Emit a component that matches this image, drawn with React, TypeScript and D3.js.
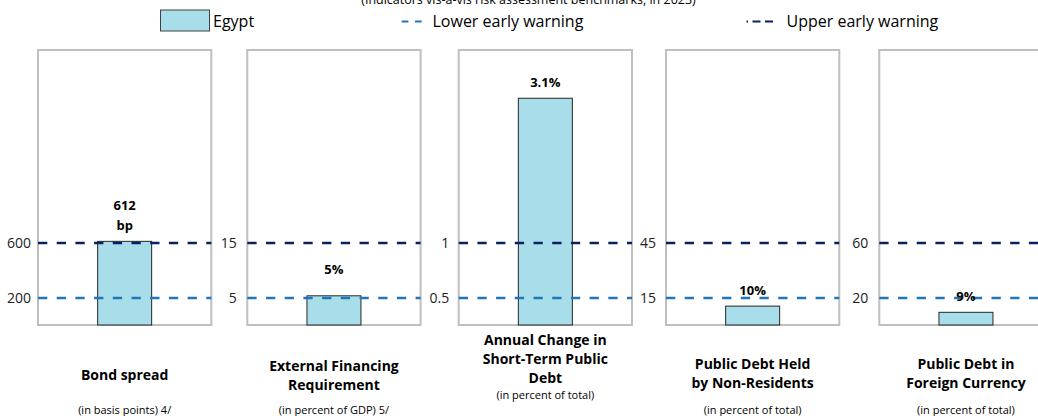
import React from "react";
import * as d3 from "d3";

// ---------- data ----------
const titleLines: string[][] = [
  ["Bond spread"],
  ["External Financing", "Requirement"],
  ["Annual Change in", "Short-Term Public", "Debt"],
  ["Public Debt Held", "by Non-Residents"],
  ["Public Debt in", "Foreign Currency"],
];
const unitLabels = [
  "(in basis points) 4/",
  "(in percent of GDP) 5/",
  "(in percent of total)",
  "(in percent of total)",
  "(in percent of total)",
];
const egyptValues = [612, 5.4, 3.1, 10.5, 9.4];
const valueLabels: string[][] = [["612", "bp"], ["5%"], ["3.1%"], ["10%"], ["9%"]];
const lowerWarning = [200, 5, 0.5, 15, 20];
const upperWarning = [600, 15, 1, 45, 60];
const axisMax = [2000, 50, 3.8, 150, 200];
const chartTitle = "(Indicators vis-à-vis risk assessment benchmarks, in 2023)";
const legendLabels = ["Egypt", "Lower early warning", "Upper early warning"];

// ---------- layout ----------
const W = 1038;
const H = 416;
const panelLeft = [38, 247.3, 458.7, 666, 879.3];
const panelW = 173.3;
const plotTop = 50;
const plotBottom = 325;
const yLowerPx = 298;
const yUpperPx = 243;
const barW = 54;
const tickGap = [7, 10.5, 9.5, 10, 11];
const labelLift = [0, 10, 0, 0, 0];
const titleBaseline = [380, 370.5, 345, 369, 369];
const unitBaseline = [413.5, 413.5, 398.5, 413.5, 413.5];

const BAR_FILL = "#A8DEE9";
const UPPER = "#0A2160";
const LOWER = "#2176B8";
const FONT = "'Open Sans', 'Noto Sans', sans-serif";

export default function App() {
  return (
    <svg
      width={W}
      height={H}
      style={{ position: "absolute", left: 0, top: 0, background: "#fff" }}
      fontFamily={FONT}
    >
      <rect x={0} y={0} width={W} height={H} fill="#fff" />
      {/* title (cut off at top) */}
      <text x={528.5} y={3.5} textAnchor="middle" fontSize={12.5} fill="#000">
        {chartTitle}
      </text>

      {/* legend */}
      <rect x={160.5} y={10} width={49} height={21} fill={BAR_FILL} stroke="#404040" strokeWidth={1} />
      <text x={213} y={26.5} fontSize={16} fill="#000">{legendLabels[0]}</text>
      <line x1={401.7} x2={421.7} y1={21.5} y2={21.5} stroke={LOWER} strokeWidth={2} strokeDasharray="6.7 6.6" />
      <text x={432.5} y={26.5} fontSize={16} fill="#000">{legendLabels[1]}</text>
      <line x1={746.5} x2={774} y1={21.5} y2={21.5} stroke={UPPER} strokeWidth={2} strokeDasharray="1.5 4.5 8 4.5 8" />
      <text x={786.5} y={26.5} fontSize={16} fill="#000">{legendLabels[2]}</text>

      {egyptValues.map((v, i) => {
        const x0 = panelLeft[i];
        const y = d3
          .scaleLinear()
          .domain([0, lowerWarning[i], upperWarning[i], axisMax[i]])
          .range([plotBottom, yLowerPx, yUpperPx, plotTop]);
        const x = d3
          .scaleBand()
          .domain(["Egypt"])
          .range([x0, x0 + panelW])
          .paddingInner(0)
          .paddingOuter((panelW - barW) / 2 / barW);
        const bx = x("Egypt") as number;
        const bw = x.bandwidth();
        const top = y(v);
        const cx = x0 + panelW / 2;
        const labels = valueLabels[i];
        return (
          <g key={i}>
            <rect x={x0} y={plotTop} width={panelW} height={plotBottom - plotTop} fill="none" stroke="#BFBFBF" strokeWidth={2} />
            <rect x={bx} y={top} width={bw} height={plotBottom - top} fill={BAR_FILL} stroke="#262626" strokeWidth={1} />
            <line x1={x0} x2={x0 + panelW} y1={y(upperWarning[i])} y2={y(upperWarning[i])} stroke={UPPER} strokeWidth={2.6} strokeDasharray="9.3 9.4" />
            <line x1={x0} x2={x0 + panelW} y1={y(lowerWarning[i])} y2={y(lowerWarning[i])} stroke={LOWER} strokeWidth={2.4} strokeDasharray="9.3 9.4" />
            <text x={x0 - tickGap[i]} y={y(upperWarning[i]) + 5} textAnchor="end" fontSize={14} fill="#222">
              {String(upperWarning[i])}
            </text>
            <text x={x0 - tickGap[i]} y={y(lowerWarning[i]) + 5} textAnchor="end" fontSize={14} fill="#222">
              {String(lowerWarning[i])}
            </text>
            {labels.map((l, k) => (
              <text
                key={k}
                x={bx + bw / 2}
                y={top - 11.5 - labelLift[i] - (labels.length - 1 - k) * 19.5}
                textAnchor="middle"
                fontSize={13}
                fontWeight="bold"
                fill="#000"
              >
                {l}
              </text>
            ))}
            {titleLines[i].map((l, k) => (
              <text key={k} x={cx} y={titleBaseline[i] + k * 19} textAnchor="middle" fontSize={14} fontWeight="bold" fill="#000">
                {l}
              </text>
            ))}
            <text x={cx} y={unitBaseline[i]} textAnchor="middle" fontSize={11} fill="#000">
              {unitLabels[i]}
            </text>
          </g>
        );
      })}
    </svg>
  );
}
